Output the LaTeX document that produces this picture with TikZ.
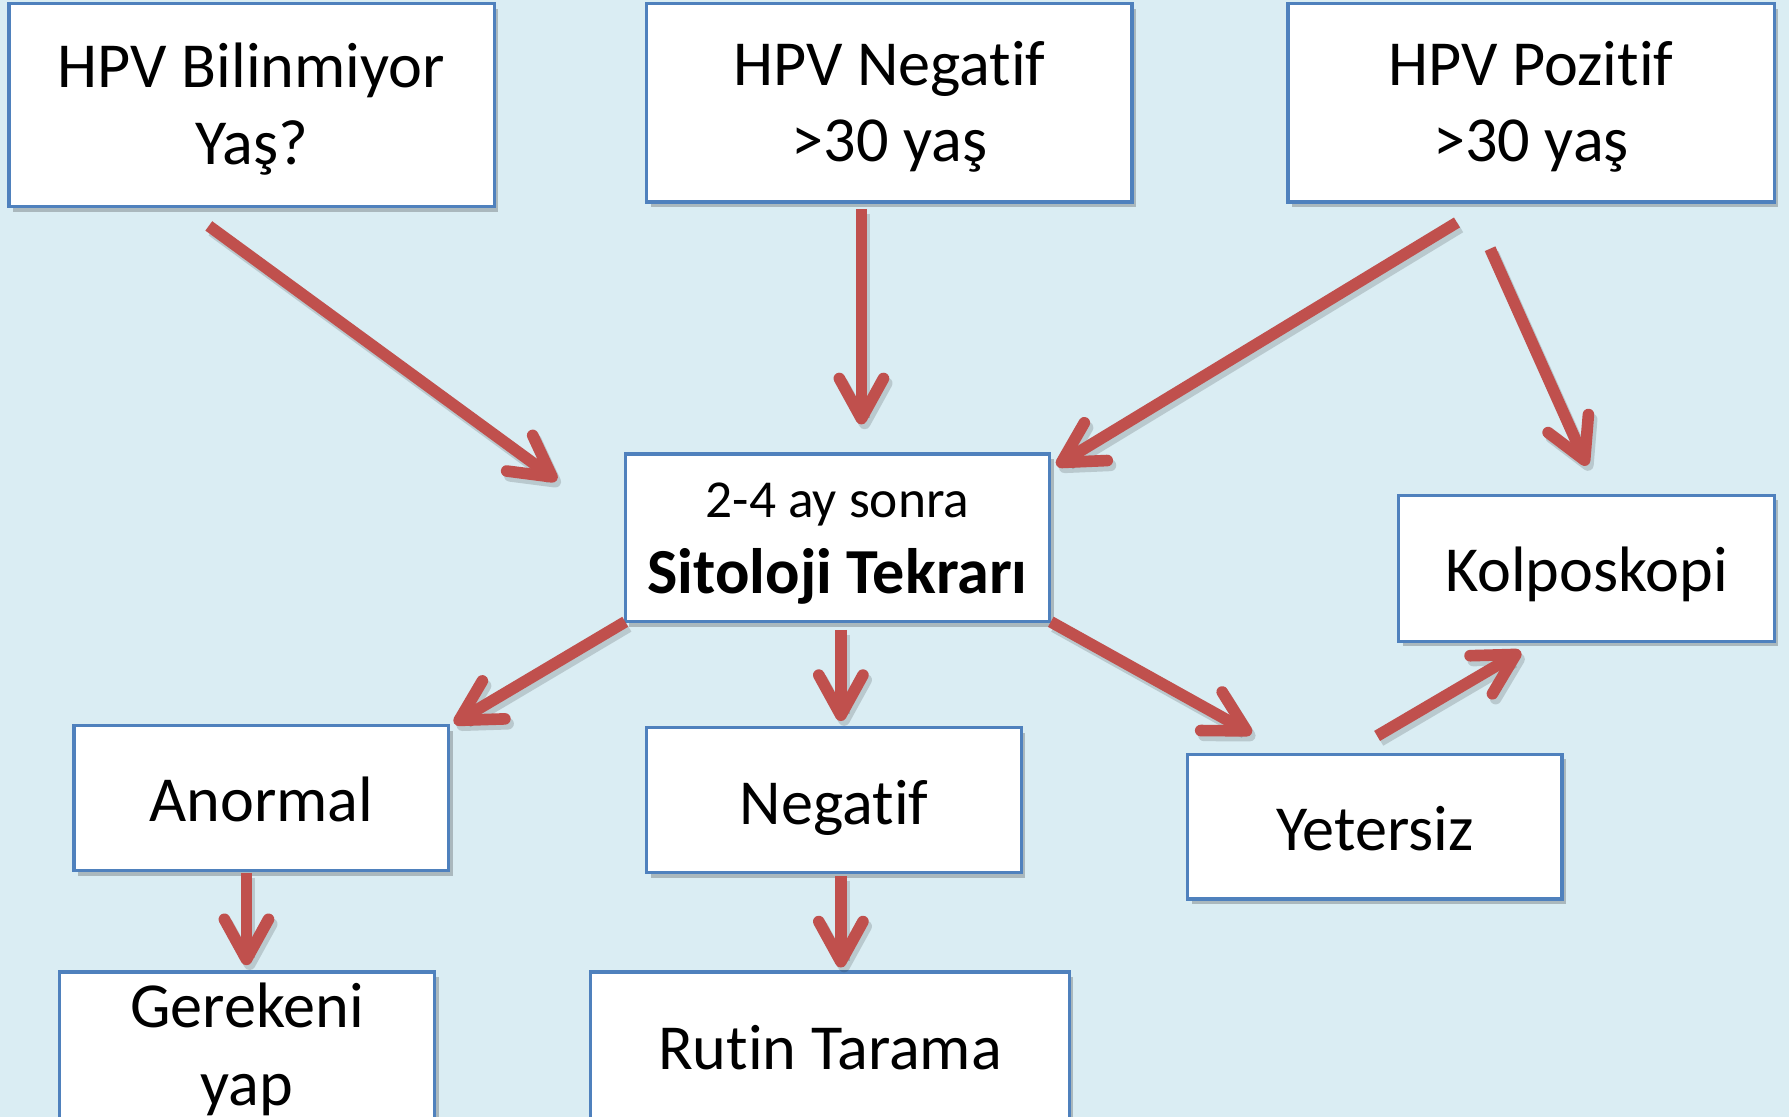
\documentclass[tikz,border=0pt]{standalone}
\usepackage{fontspec}
\setmainfont{Carlito}[Ligatures=NoCommon]
\usetikzlibrary{arrows.meta,shadows}
\definecolor{bgblue}{RGB}{218,237,243}
\definecolor{boxline}{RGB}{79,129,189}
\definecolor{arrred}{RGB}{192,80,77}
\newcommand{\tstrut}[1]{\rule{0pt}{#1}}
\tikzset{
  box/.style={draw=boxline, line width=0.8pt, fill=white, inner sep=0pt, align=center,
    font=\fontsize{16}{19}\selectfont,
    drop shadow={shadow xshift=1pt, shadow yshift=-1.3pt, opacity=0.22, fill=black}},
  oneline/.style={text height=13pt, text depth=1.2pt},
  arr/.style={draw=arrred, line width=2.9pt, line cap=butt,
    -{Straight Barb[length=10pt,width=11pt,round]}},
}
\begin{document}
\begin{tikzpicture}[x=0.01cm,y=-0.01cm]
\fill[bgblue] (0,0) rectangle (1568,979);
\useasboundingbox (0,0) rectangle (1568,979);
\begin{scope}
\clip (0,0) rectangle (1568,979);
\node[box, minimum width=4.25cm, minimum height=1.78cm] (bil) at (220.5,92) {\tstrut{13.2pt}HPV Bilinmiyor\\Yaş?};
\node[box, minimum width=4.25cm, minimum height=1.74cm] (neg) at (779.5,90) {\tstrut{13.2pt}HPV Negatif\\>30 yaş};
\node[box, minimum width=4.26cm, minimum height=1.74cm] (poz) at (1342,90) {\tstrut{13.2pt}HPV Pozitif\\>30 yaş};
\node[box, minimum width=3.72cm, minimum height=1.47cm] (sit) at (734,471.5)
  {{\fontsize{13.3}{15}\selectfont\tstrut{11.5pt}2-4 ay sonra}\\[0pt]{\bfseries Sitoloji Tekrarı}};
\node[box, oneline, minimum width=3.29cm, minimum height=1.28cm] (kol) at (1390.5,498) {Kolposkopi};
\node[box, oneline, minimum width=3.28cm, minimum height=1.27cm] (ano) at (229,699.5) {Anormal};
\node[box, oneline, minimum width=3.28cm, minimum height=1.27cm] (sneg) at (731,701.5) {Negatif};
\node[box, oneline, minimum width=3.28cm, minimum height=1.27cm] (yet) at (1205,724.5) {Yetersiz};
\node[box, minimum width=3.29cm, minimum height=1.30cm, font=\fontsize{16}{19.5}\selectfont] (ger) at (216.5,917) {\tstrut{12.6pt}Gerekeni\\yap};
\node[box, oneline, minimum width=4.19cm, minimum height=1.30cm] (rut) at (727.5,917) {Rutin Tarama};

\coordinate (a1) at (183,198);  \coordinate (a2) at (488,421);
\coordinate (b1) at (755,183);  \coordinate (b2) at (755,372);
\coordinate (c1) at (1277,195); \coordinate (c2) at (926,408);
\coordinate (d1) at (1306,218); \coordinate (d2) at (1391,408);
\coordinate (e1) at (548,545);  \coordinate (e2) at (398,634);
\coordinate (f1) at (737,552);  \coordinate (f2) at (737,632);
\coordinate (g1) at (921,545);  \coordinate (g2) at (1097,643);
\coordinate (h1) at (1207,645); \coordinate (h2) at (1333,571);
\coordinate (i1) at (216,765);  \coordinate (i2) at (216,846);
\coordinate (j1) at (737,768);  \coordinate (j2) at (737,848);

\foreach \p in {a,b,c,d,e,f,g,h,i,j}{
  \draw[arr, draw=black, opacity=0.15, transform canvas={shift={(0.8pt,-1.2pt)}}] (\p1) -- (\p2);
  \draw[arr] (\p1) -- (\p2);
}
\end{scope}
\end{tikzpicture}
\end{document}
